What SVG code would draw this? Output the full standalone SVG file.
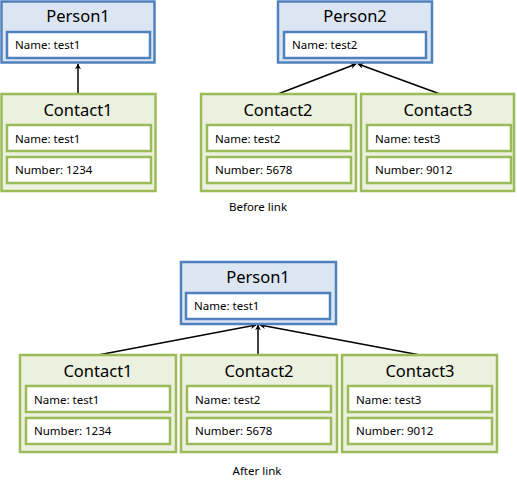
<svg xmlns="http://www.w3.org/2000/svg" width="517" height="486" viewBox="0 0 517 486">
<defs>
<style>
.person{fill:#dce6f2;stroke:#4f81bd;stroke-width:2.5}
.pin{fill:#ffffff;stroke:#4f81bd;stroke-width:2.5}
.contact{fill:#ebf1de;stroke:#9bbb59;stroke-width:2.5}
.cin{fill:#ffffff;stroke:#9bbb59;stroke-width:2.5}
.title{font-family:"Noto Sans","Liberation Sans",sans-serif;font-size:16.5px;fill:#000;text-anchor:middle}
.field{font-family:"Noto Sans","Liberation Sans",sans-serif;font-size:11.5px;fill:#000}
.cap{font-family:"Noto Sans","Liberation Sans",sans-serif;font-size:11.5px;fill:#000;text-anchor:middle}
.link{stroke:#000;stroke-width:1.5;fill:none;marker-end:url(#arr)}
</style>
<marker id="arr" viewBox="0 0 10 10" refX="9" refY="5" markerWidth="6" markerHeight="6" orient="auto" markerUnits="userSpaceOnUse">
<path d="M0,0 L10,5 L0,10 L3,5 z" fill="#000"/>
</marker>
</defs>

<g id="connectors">
<line class="link" x1="78" y1="94" x2="78" y2="64"/>
<line class="link" x1="278" y1="94" x2="356" y2="64"/>
<line class="link" x1="440" y1="94" x2="358" y2="64"/>
<line class="link" x1="258" y1="355" x2="258" y2="325"/>
<line class="link" x1="98" y1="355" x2="256" y2="325"/>
<line class="link" x1="420" y1="355" x2="260" y2="325"/>
</g>

<g id="person1-before">
<rect class="person" x="1.5" y="1.5" width="153" height="61"/>
<text class="title" x="78" y="22">Person1</text>
<rect class="pin" x="7" y="32" width="143" height="26"/>
<text class="field" x="15" y="49">Name: test1</text>
</g>

<g id="contact1-before">
<rect class="contact" x="1.5" y="94" width="154" height="97"/>
<text class="title" x="78" y="116">Contact1</text>
<rect class="cin" x="7" y="125" width="144" height="26"/>
<text class="field" x="15" y="143">Name: test1</text>
<rect class="cin" x="7" y="157" width="144" height="26"/>
<text class="field" x="15" y="174">Number: 1234</text>
</g>

<g id="person2-before">
<rect class="person" x="278" y="1.5" width="154" height="61"/>
<text class="title" x="355" y="22">Person2</text>
<rect class="pin" x="284" y="32" width="142" height="26"/>
<text class="field" x="292" y="49">Name: test2</text>
</g>

<g id="contact2-before">
<rect class="contact" x="201" y="94" width="155" height="97"/>
<text class="title" x="278" y="116">Contact2</text>
<rect class="cin" x="207" y="125" width="144" height="26"/>
<text class="field" x="215" y="143">Name: test2</text>
<rect class="cin" x="207" y="157" width="144" height="26"/>
<text class="field" x="215" y="174">Number: 5678</text>
</g>

<g id="contact3-before">
<rect class="contact" x="361" y="94" width="153" height="97"/>
<text class="title" x="438" y="116">Contact3</text>
<rect class="cin" x="367" y="125" width="144" height="26"/>
<text class="field" x="375" y="143">Name: test3</text>
<rect class="cin" x="367" y="157" width="144" height="26"/>
<text class="field" x="375" y="174">Number: 9012</text>
</g>

<text class="cap" x="258" y="211">Before link</text>

<g id="person1-after">
<rect class="person" x="181" y="262" width="155" height="62"/>
<text class="title" x="258" y="283">Person1</text>
<rect class="pin" x="186" y="293" width="144" height="26"/>
<text class="field" x="194" y="310">Name: test1</text>
</g>

<g id="contact1-after">
<rect class="contact" x="20" y="355" width="156" height="97"/>
<text class="title" x="98" y="377">Contact1</text>
<rect class="cin" x="26" y="386" width="144" height="26"/>
<text class="field" x="34" y="404">Name: test1</text>
<rect class="cin" x="26" y="418" width="144" height="26"/>
<text class="field" x="34" y="435">Number: 1234</text>
</g>

<g id="contact2-after">
<rect class="contact" x="181" y="355" width="156" height="97"/>
<text class="title" x="259" y="377">Contact2</text>
<rect class="cin" x="187" y="386" width="144" height="26"/>
<text class="field" x="195" y="404">Name: test2</text>
<rect class="cin" x="187" y="418" width="144" height="26"/>
<text class="field" x="195" y="435">Number: 5678</text>
</g>

<g id="contact3-after">
<rect class="contact" x="342" y="355" width="155" height="97"/>
<text class="title" x="420" y="377">Contact3</text>
<rect class="cin" x="348" y="386" width="144" height="26"/>
<text class="field" x="356" y="404">Name: test3</text>
<rect class="cin" x="348" y="418" width="144" height="26"/>
<text class="field" x="356" y="435">Number: 9012</text>
</g>

<text class="cap" x="257" y="475">After link</text>
</svg>
